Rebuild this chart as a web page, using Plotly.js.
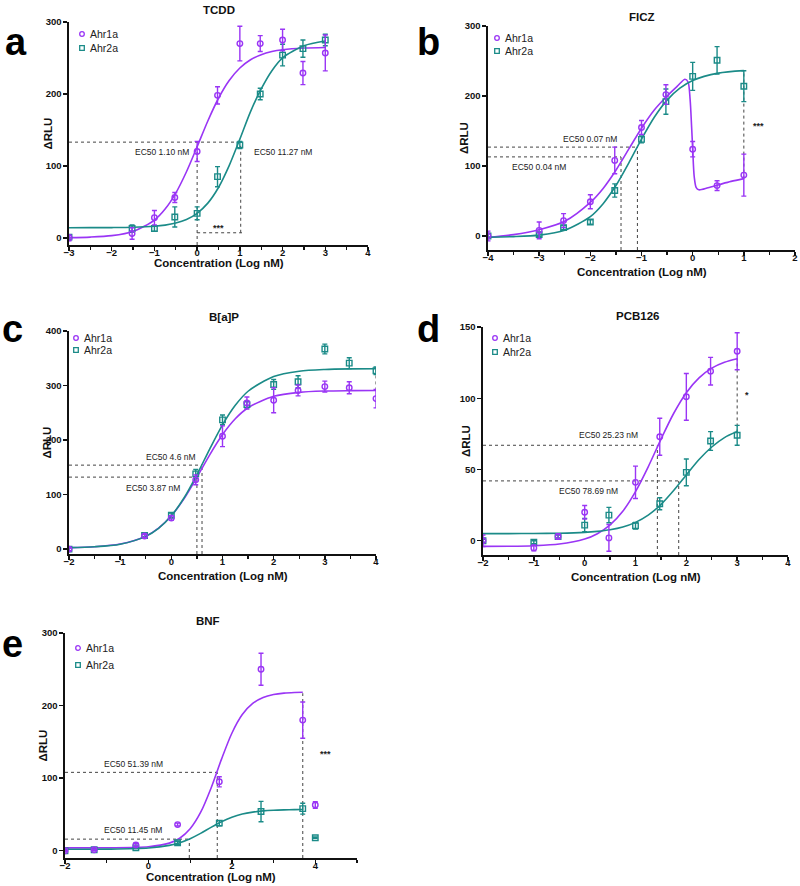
<!DOCTYPE html>
<html>
<head>
<meta charset="utf-8">
<script src="https://cdn.plot.ly/plotly-3.0.1.min.js"></script>
<style>html,body{margin:0;padding:0;background:#fff}#chart{width:800px;height:886px}</style>
</head>
<body>
<div id="chart"></div>
<script>
// ---------- DATA ----------
const seriesNames = ["Ahr1a", "Ahr2a"];
const xTitle = "Concentration (Log nM)";
const yTitle = "ΔRLU";

// a: TCDD
const tcddX = [-3, -1.523, -1, -0.523, 0, 0.477, 1, 1.477, 2, 2.477, 3];
const tcddAhr1a = [0, 6, 28, 56, 120, 198, 270, 270, 275, 229, 257];
const tcddAhr1aErr = [4, 8, 10, 7, 14, 12, 24, 11, 15, 16, 25];
const tcddAhr2a = [1, 13, 13, 29, 34, 85, 129, 200, 254, 263, 275];
const tcddAhr2aErr = [3, 5, 4, 14, 9, 14, 5, 8, 15, 12, 8];
const tcddFitX = [-3, -2.5, -2, -1.5, -1, -0.75, -0.5, -0.25, 0, 0.25, 0.5, 0.75, 1, 1.25, 1.5, 1.75, 2, 2.5, 3];
const tcddFit1 = [0.3, 1.0, 3.0, 8.8, 24.7, 40.0, 62.2, 91.8, 126.7, 162.4, 194.0, 218.7, 236.1, 247.5, 254.6, 258.9, 261.4, 263.8, 264.6];
const tcddFit2 = [14.0, 14.1, 14.2, 14.6, 16.0, 17.6, 20.5, 25.5, 34.1, 48.2, 69.9, 100.3, 137.2, 175.5, 206.9, 232.2, 250.1, 266.9, 273.5];

// b: FICZ
const ficzX = [-4, -3, -2.523, -2, -1.523, -1, -0.523, 0, 0.477, 1];
const ficzAhr1a = [0, 8, 22, 49, 108, 155, 202, 124, 72, 87];
const ficzAhr1aErr = [7, 12, 10, 10, 19, 10, 14, 11, 7, 30];
const ficzAhr2a = [0, 2, 12, 20, 65, 138, 192, 228, 251, 214];
const ficzAhr2aErr = [3, 3, 3, 3, 9.5, 5, 18, 20, 19.5, 22];
const ficzFit1X = [-4, -3.5, -3, -2.5, -2, -1.75, -1.5, -1.25, -1, -0.75, -0.5, -0.3, -0.15, -0.09, -0.05, -0.02, 0, 0.03, 0.07, 0.12, 0.3, 0.5, 0.75, 1];
const ficzFit1 = [-2, 2, 9, 21, 48, 68, 94, 124, 154, 180, 200, 214, 224, 220, 195, 155, 125, 85, 69, 66, 69, 73, 78, 82];
const ficzFit2X = [-4, -3.5, -3, -2.5, -2, -1.75, -1.5, -1.25, -1, -0.75, -0.5, -0.25, 0, 0.5, 1];
const ficzFit2 = [-1.7, -0.9, 1.3, 8.3, 27.7, 46.2, 72.1, 104.2, 138.5, 169.7, 194.1, 211.1, 222.1, 232.7, 236.3];

// c: B[a]P
const bapX = [-2, -0.523, 0, 0.477, 1, 1.477, 2, 2.477, 3, 3.477, 4];
const bapAhr1a = [0, 24, 57, 127, 207, 268, 273, 291, 298, 296, 276];
const bapAhr1aErr = [3, 3, 4, 9, 19, 11, 23, 10, 10, 11, 17];
const bapAhr2a = [0, 25, 62, 138, 237, 265, 302, 307, 367, 341, 327];
const bapAhr2aErr = [3, 3, 4, 8, 9, 6, 9, 11, 9, 10, 7];
const bapFitX = [-2, -1.5, -1, -0.5, -0.25, 0, 0.25, 0.5, 0.75, 1, 1.25, 1.5, 2, 2.5, 3, 3.5, 4];
const bapFit1 = [2.7, 4.3, 9.2, 23.7, 38.5, 61.1, 92.6, 131.6, 172.8, 210, 239.1, 259.3, 280.2, 287.5, 289.9, 290.6, 290.9];
const bapFit2 = [2.7, 4.3, 9.0, 23.3, 38.0, 61.1, 94.1, 136.6, 183.5, 227.8, 263.7, 289.5, 316.6, 326.3, 329.5, 330.5, 330.8];

// d: PCB126
const pcbX = [-2, -1, -0.523, 0, 0.477, 1, 1.477, 2, 2.477, 3];
const pcbAhr1a = [0, -5, 3, 20, 2, 41, 73, 101, 119, 133];
const pcbAhr1aErr = [4, 2, 2, 4.7, 9.4, 11.4, 13, 16.4, 9.7, 13];
const pcbAhr2a = [0, -1, 3, 11, 18, 10.5, 26, 48, 70, 74];
const pcbAhr2aErr = [1, 1, 1, 4.7, 5.4, 2.3, 4.2, 9.4, 6.6, 7];
const pcbFitX = [-2, -1.5, -1, -0.5, 0, 0.25, 0.5, 0.75, 1, 1.25, 1.5, 1.75, 2, 2.25, 2.5, 2.75, 3];
const pcbFit1 = [-3.95, -3.83, -3.46, -2.32, 1.17, 4.94, 11.1, 20.7, 34.5, 51.9, 71.2, 89.3, 103.9, 114.3, 121.1, 125.2, 127.7];
const pcbFit2 = [5.0, 5.0, 5.1, 5.3, 5.9, 6.6, 7.7, 9.6, 12.9, 18.0, 25.4, 35.2, 46.2, 57.0, 65.8, 72.4, 76.6];

// e: BNF
const bnfX = [-2, -1.301, -0.301, 0.699, 1.699, 2.699, 3.699, 4];
const bnfAhr1a = [0, 1.4, 8, 36, 95, 250, 180, 63];
const bnfAhr1aErr = [1, 1, 2, 2, 7, 22, 25, 4.5];
const bnfAhr2a = [0, 1.4, 4, 11, 38, 54, 58, 18];
const bnfAhr2aErr = [1, 1, 1, 2, 3.5, 14, 7.5, 1];
const bnfFitX = [-2, -1, 0, 0.5, 0.75, 1, 1.25, 1.5, 1.75, 2, 2.25, 2.5, 2.75, 3, 3.25, 3.5, 3.7];
const bnfFit1 = [4.0, 4.1, 5.5, 10.5, 17.2, 30.2, 52.7, 86.2, 125.9, 161.9, 187.6, 202.9, 211.1, 215.2, 217.2, 218.1, 218.4];
const bnfFit2 = [2.0, 2.2, 3.7, 7.4, 11.1, 16.6, 23.9, 32.2, 39.9, 46.1, 50.5, 53.2, 54.9, 55.8, 56.3, 56.6, 56.8];

// EC50 guide lines: horizontal [x0, x1, y], vertical [x, y0, y1]
const tcddRefH = [[-3, 1.05, 133], [0, 1.05, 7]];
const tcddRefV = [[0, -10, 133], [1.02, 7, 133]];
const ficzRefH = [[-4, -1.08, 127], [-4, -1.40, 113]];
const ficzRefV = [[-1.40, -20, 113], [-1.08, -20, 127], [1, 82, 237]];
const bapRefH = [[-2, 0.6, 154], [-2, 0.5, 132]];
const bapRefV = [[0.5, -9, 132], [0.6, -9, 154], [4, 291, 331]];
const pcbRefH = [[-2, 1.43, 67], [-2, 1.85, 42]];
const pcbRefV = [[1.43, -10, 67], [1.85, -10, 42], [3, 76, 128]];
const bnfRefH = [[-2, 1.65, 108], [-2, 0.98, 16]];
const bnfRefV = [[1.65, -10, 108], [0.98, -10, 16], [3.7, -10, 217]];

// ---------- STYLE / LAYOUT ----------
const W = 800, H = 886;
const PURPLE = '#9a35f5', TEAL = '#1b8b88';
const FONT = 'Liberation Sans, Arial, sans-serif';
const px = v => v / W, py = v => 1 - v / H;

const panels = [
  {n: 1, letter: 'a', title: 'TCDD', x: tcddX, y1: tcddAhr1a, e1: tcddAhr1aErr, y2: tcddAhr2a, e2: tcddAhr2aErr,
   f1x: tcddFitX, f1: tcddFit1, f2x: tcddFitX, f2: tcddFit2, refH: tcddRefH, refV: tcddRefV,
   xr: [-3, 4], xdt: 1, xmin: 0.5, yr: [-10, 300], ydt: 100, box: [69, 368, 22, 245], titlePos: [219, 10.5], letterPos: [16, 42],
   xtY: 263, ytX: 47, legPos: [82, 34, 48],
   labels: [['EC50 1.10 nM', -0.83, 119], ['EC50 11.27 nM', 2.0, 119], ['***', 0.5, 14]]},
  {n: 2, letter: 'b', title: 'FICZ', x: ficzX, y1: ficzAhr1a, e1: ficzAhr1aErr, y2: ficzAhr2a, e2: ficzAhr2aErr,
   f1x: ficzFit1X, f1: ficzFit1, f2x: ficzFit2X, f2: ficzFit2, refH: ficzRefH, refV: ficzRefV,
   xr: [-4, 2], xdt: 1, xmin: 0.5, yr: [-20, 300], ydt: 100, box: [488, 795, 26, 250], titlePos: [642, 17], letterPos: [428, 42],
   xtY: 272, ytX: 464, legPos: [497, 38, 51],
   labels: [['EC50 0.07 nM', -2.0, 138], ['EC50 0.04 nM', -3.0, 99], ['***', 1.28, 157]]},
  {n: 3, letter: 'c', title: 'B[a]P', x: bapX, y1: bapAhr1a, e1: bapAhr1aErr, y2: bapAhr2a, e2: bapAhr2aErr,
   f1x: bapFitX, f1: bapFit1, f2x: bapFitX, f2: bapFit2, refH: bapRefH, refV: bapRefV,
   xr: [-2, 4], xdt: 1, xmin: 0.5, yr: [-9, 400], ydt: 100, box: [69, 376, 331, 554], titlePos: [224, 317], letterPos: [12, 329],
   xtY: 576, ytX: 47, legPos: [76, 338, 350],
   labels: [['EC50 4.6 nM', 0, 168], ['EC50 3.87 nM', -0.36, 112], ['***', 4.2, 310]]},
  {n: 4, letter: 'd', title: 'PCB126', x: pcbX, y1: pcbAhr1a, e1: pcbAhr1aErr, y2: pcbAhr2a, e2: pcbAhr2aErr,
   f1x: pcbFitX, f1: pcbFit1, f2x: pcbFitX, f2: pcbFit2, refH: pcbRefH, refV: pcbRefV,
   xr: [-2, 4], xdt: 1, xmin: 0.5, yr: [-10, 150], ydt: 50, box: [483, 788, 327, 555], titlePos: [637, 315.5], letterPos: [428, 329],
   xtY: 577, ytX: 466, legPos: [495, 338, 352],
   labels: [['EC50 25.23 nM', 0.47, 74], ['EC50 78.69 nM', 0.08, 35], ['*', 3.2, 102]]},
  {n: 5, letter: 'e', title: 'BNF', x: bnfX, y1: bnfAhr1a, e1: bnfAhr1aErr, y2: bnfAhr2a, e2: bnfAhr2aErr,
   f1x: bnfFitX, f1: bnfFit1, f2x: bnfFitX, f2: bnfFit2, refH: bnfRefH, refV: bnfRefV,
   xr: [-2, 5], xdt: 2, xmin: 1, yr: [-10, 300], ydt: 100, box: [65, 357, 633, 858], titlePos: [208, 620.5], letterPos: [12, 644],
   xtY: 877, ytX: 42, legPos: [78, 648, 665],
   labels: [['EC50 51.39 nM', -0.36, 120], ['EC50 11.45 nM', -0.36, 29], ['***', 4.25, 133]]}
];

const traces = [];
const shapes = [];
const annotations = [];
const layout = {
  width: W, height: H, margin: {l: 0, r: 0, t: 0, b: 0},
  paper_bgcolor: '#fff', plot_bgcolor: 'rgba(0,0,0,0)', showlegend: false,
  font: {family: FONT, color: '#111'}
};
const boldFont = (s) => ({family: FONT, size: s, weight: 'bold', color: '#111'});
const sfx = n => (n === 1 ? '' : String(n));

panels.forEach(p => {
  const xa = 'x' + sfx(p.n), ya = 'y' + sfx(p.n);
  const xl = 'x' + (p.n + 5); // label-only overlay axis
  const [l, r, t, b] = p.box;
  const axisCommon = {
    showgrid: false, zeroline: false, showline: true, linecolor: '#111', linewidth: 1.6,
    ticks: 'outside', ticklen: 4, tickwidth: 1.4, tickcolor: '#111',
    tickfont: boldFont(9.5), fixedrange: true
  };
  // x axis: line + ticks (labels drawn by overlay axis so they sit close to the axis)
  layout['xaxis' + sfx(p.n)] = Object.assign({}, axisCommon, {
    domain: [px(l), px(r)], anchor: ya, range: p.xr, dtick: p.xdt, tick0: 0, showticklabels: false,
    minor: {ticks: 'outside', ticklen: 3.5, tickwidth: 1.2, tickcolor: '#111', dtick: p.xmin, showgrid: false}
  });
  layout['xaxis' + (p.n + 5)] = {
    overlaying: xa, anchor: ya, side: 'bottom', range: p.xr, dtick: p.xdt, tick0: 0,
    showline: false, showgrid: false, zeroline: false, ticks: '', ticklen: 0,
    tickfont: boldFont(9.5), fixedrange: true
  };
  layout['yaxis' + sfx(p.n)] = Object.assign({}, axisCommon, {
    domain: [py(b), py(t)], anchor: xa, range: p.yr, dtick: p.ydt, tick0: 0
  });
  traces.push({x: [], y: [], xaxis: xl, yaxis: ya, mode: 'markers', hoverinfo: 'skip', showlegend: false});

  // axis titles
  annotations.push({xref: 'paper', yref: 'paper', x: px((l + r) / 2), y: py(p.xtY), xanchor: 'center', yanchor: 'middle',
    text: xTitle, showarrow: false, font: boldFont(11.5)});
  annotations.push({xref: 'paper', yref: 'paper', x: px(p.ytX), y: py((t + b) / 2), xanchor: 'center', yanchor: 'middle',
    text: yTitle, textangle: -90, showarrow: false, font: boldFont(11.5)});

  // fitted curves
  traces.push({x: p.f1x, y: p.f1, xaxis: xa, yaxis: ya, mode: 'lines', line: {color: PURPLE, width: 1.6, shape: 'spline', smoothing: 0.8}, hoverinfo: 'skip', name: seriesNames[0] + ' fit'});
  traces.push({x: p.f2x, y: p.f2, xaxis: xa, yaxis: ya, mode: 'lines', line: {color: TEAL, width: 1.6, shape: 'spline', smoothing: 0.8}, hoverinfo: 'skip', name: seriesNames[1] + ' fit'});
  // data points
  traces.push({x: p.x, y: p.y2, xaxis: xa, yaxis: ya, mode: 'markers', name: seriesNames[1],
    marker: {symbol: 'square-open', size: 5.5, color: TEAL, line: {width: 1.4, color: TEAL}},
    error_y: {type: 'data', array: p.e2, color: TEAL, thickness: 1.4, width: 2.5}});
  traces.push({x: p.x, y: p.y1, xaxis: xa, yaxis: ya, mode: 'markers', name: seriesNames[0],
    marker: {symbol: 'circle-open', size: 5.5, color: PURPLE, line: {width: 1.4, color: PURPLE}},
    error_y: {type: 'data', array: p.e1, color: PURPLE, thickness: 1.4, width: 2.5}});

  // guide lines
  const dot = {color: '#444', width: 1, dash: 'dot'};
  p.refH.forEach(h => shapes.push({type: 'line', xref: xa, yref: ya, x0: h[0], x1: h[1], y0: h[2], y1: h[2], line: dot, layer: 'below'}));
  p.refV.forEach(v => shapes.push({type: 'line', xref: xa, yref: ya, x0: v[0], x1: v[0], y0: v[1], y1: v[2], line: dot, layer: 'below'}));

  // text labels on plot
  p.labels.forEach(lb => annotations.push({xref: xa, yref: ya, x: lb[1], y: lb[2], text: lb[0], showarrow: false,
    font: {family: FONT, size: lb[0].startsWith('*') ? 9 : 8.5, color: '#222', weight: lb[0].startsWith('*') ? 'bold' : 'normal'}}));

  // subplot title
  annotations.push({xref: 'paper', yref: 'paper', x: px(p.titlePos[0]), y: py(p.titlePos[1]), xanchor: 'center', yanchor: 'middle',
    text: p.title, showarrow: false, font: boldFont(11.5)});
  // panel letter
  annotations.push({xref: 'paper', yref: 'paper', x: px(p.letterPos[0]), y: py(p.letterPos[1]), xanchor: 'center', yanchor: 'middle',
    text: p.letter, showarrow: false, font: {family: FONT, size: 38, weight: 'bold', color: '#000'}});

  // legend (symbol + text)
  const [lx, ly1, ly2] = p.legPos;
  const sym = (type, cy, color) => shapes.push({type: type, xref: 'paper', yref: 'paper', xsizemode: 'pixel', ysizemode: 'pixel',
    xanchor: px(lx), yanchor: py(cy), x0: -2.3, x1: 2.3, y0: -2.3, y1: 2.3, line: {color: color, width: 1.3}});
  sym('circle', ly1, PURPLE);
  sym('rect', ly2, TEAL);
  [[seriesNames[0], ly1], [seriesNames[1], ly2]].forEach(s => annotations.push({xref: 'paper', yref: 'paper',
    x: px(lx + 6), y: py(s[1]), xanchor: 'left', yanchor: 'middle', text: s[0], showarrow: false,
    font: {family: FONT, size: 10.5, color: '#222'}}));
});

layout.shapes = shapes;
layout.annotations = annotations;

Plotly.newPlot('chart', traces, layout, {displayModeBar: false, staticPlot: true});
</script>
</body>
</html>
